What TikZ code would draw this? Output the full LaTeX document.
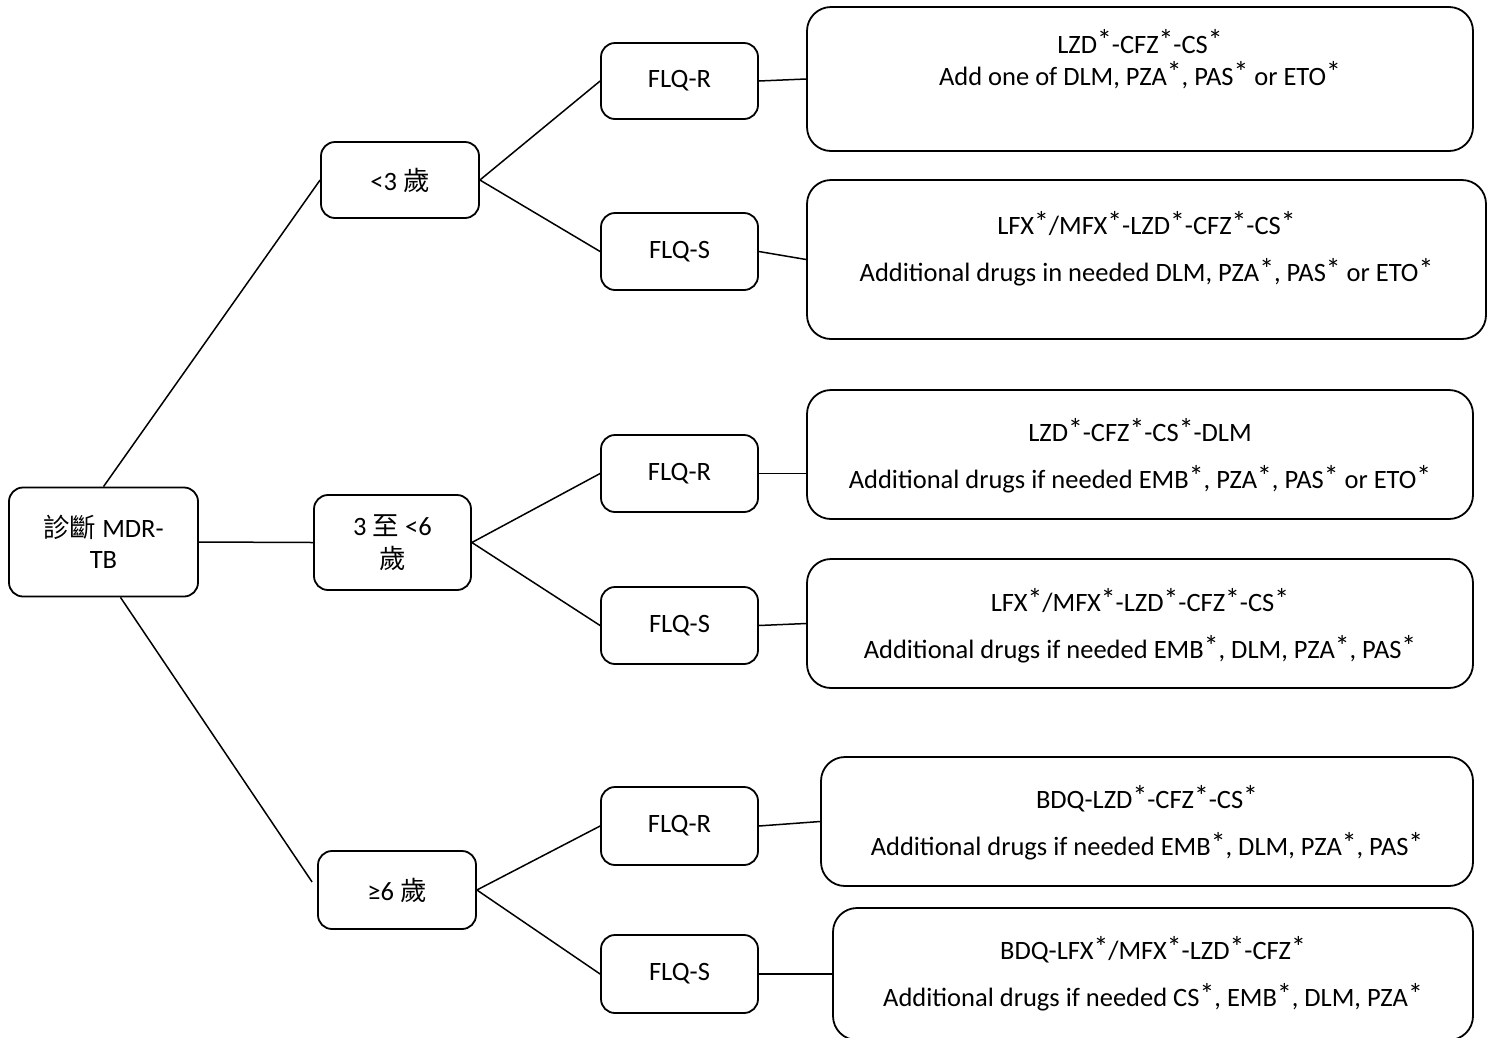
\documentclass[tikz,border=0pt]{standalone}
\usepackage{fontspec}
\setmainfont{Carlito}
\newfontfamily\cjk{Noto Sans CJK TC}
\newcommand\astr{\raisebox{0.09em}{\scalebox{1.12}{*}}}
\begin{document}
\begin{tikzpicture}[x=1pt,y=-1pt,
  txt/.style={font=\fontsize{26.5}{32}\selectfont, align=center, inner sep=0pt},
  sbox/.style={draw, line width=1.8pt, rounded corners=14pt, txt},
  rbox/.style={draw, line width=1.8pt, rounded corners=24pt, inner sep=0pt},
  conn/.style={line width=1.5pt}]
\useasboundingbox (0,0) rectangle (1493,1037);
% left column
\node[sbox, minimum width=189pt, minimum height=109pt, font=\fontsize{26.5}{31}\selectfont] (root) at (103.5,542) {{\cjk 診斷} MDR-\\TB};
\node[sbox, minimum width=158pt, minimum height=76pt] (a3) at (400,180) {<3 {\cjk 歲}};
\node[sbox, minimum width=157pt, minimum height=95pt, font=\fontsize{26.5}{33}\selectfont] (a36) at (392.5,542.5) {3 {\cjk 至} <6\\{\cjk 歲}};
\node[sbox, minimum width=158pt, minimum height=78pt] (a6) at (397,890) {≥6 {\cjk 歲}};
% FLQ nodes
\node[sbox, minimum width=157pt, minimum height=76pt] (fr1) at (679.5,81) {FLQ-R};
\node[sbox, minimum width=157pt, minimum height=77pt] (fs1) at (679.5,251.5) {FLQ-S};
\node[sbox, minimum width=157pt, minimum height=77pt] (fr2) at (679.5,473.5) {FLQ-R};
\node[sbox, minimum width=157pt, minimum height=77pt] (fs2) at (679.5,625.5) {FLQ-S};
\node[sbox, minimum width=157pt, minimum height=78pt] (fr3) at (679.5,826) {FLQ-R};
\node[sbox, minimum width=157pt, minimum height=78pt] (fs3) at (679.5,974) {FLQ-S};
% result boxes
\node[rbox, minimum width=666pt, minimum height=144pt] (r1) at (1140,79) {};
\node[rbox, minimum width=679pt, minimum height=159pt] (r2) at (1146.5,259.5) {};
\node[rbox, minimum width=666pt, minimum height=129pt] (r3) at (1140,454.5) {};
\node[rbox, minimum width=666pt, minimum height=129pt] (r4) at (1140,623.5) {};
\node[rbox, minimum width=652pt, minimum height=129pt] (r5) at (1147,821.5) {};
\node[rbox, minimum width=640pt, minimum height=132pt] (r6) at (1153,974) {};
\node[txt] (t1) at ([yshift=20pt]r1.center) {LZD\astr-CFZ\astr-CS\astr\\Add one of DLM, PZA\astr, PAS\astr{} or ETO\astr};
\node[txt] (t2) at ([yshift=11pt]r2.center) {LFX\astr/MFX\astr-LZD\astr-CFZ\astr-CS\astr\\[15pt]Additional drugs in needed DLM, PZA\astr, PAS\astr{} or ETO\astr};
\node[txt] (t3) at ([yshift=-1pt]r3.center) {LZD\astr-CFZ\astr-CS\astr-DLM\\[15pt]Additional drugs if needed EMB\astr, PZA\astr, PAS\astr{} or ETO\astr};
\node[txt] (t4) at ([yshift=-2pt]r4.center) {LFX\astr/MFX\astr-LZD\astr-CFZ\astr-CS\astr\\[15pt]Additional drugs if needed EMB\astr, DLM, PZA\astr, PAS\astr};
\node[txt] (t5) at ([yshift=-1.5pt]r5.center) {BDQ-LZD\astr-CFZ\astr-CS\astr\\[15pt]Additional drugs if needed EMB\astr, DLM, PZA\astr, PAS\astr};
\node[txt] (t6) at ([yshift=0pt]r6.center) {BDQ-LFX\astr/MFX\astr-LZD\astr-CFZ\astr\\[15pt]Additional drugs if needed CS\astr, EMB\astr, DLM, PZA\astr};
% connectors
\draw[conn] (root.north) -- (a3.west);
\draw[conn] (root.east) -- (a36.west);
\draw[conn] ([xshift=17pt]root.south) -- ([xshift=-5pt,yshift=8pt]a6.west);
\draw[conn] (a3.east) -- (fr1.west);
\draw[conn] (a3.east) -- (fs1.west);
\draw[conn] (a36.east) -- (fr2.west);
\draw[conn] (a36.east) -- (fs2.west);
\draw[conn] (a6.east) -- (fr3.west);
\draw[conn] (a6.east) -- (fs3.west);
\draw[conn] (fr1.east) -- (r1.west);
\draw[conn] (fs1.east) -- (r2.west);
\draw[conn] (fr2.east) -- (fr2.east -| r3.west);
\draw[conn] (fs2.east) -- (r4.west);
\draw[conn] (fr3.east) -- (r5.west);
\draw[conn] (fs3.east) -- (r6.west);
\end{tikzpicture}
\end{document}
